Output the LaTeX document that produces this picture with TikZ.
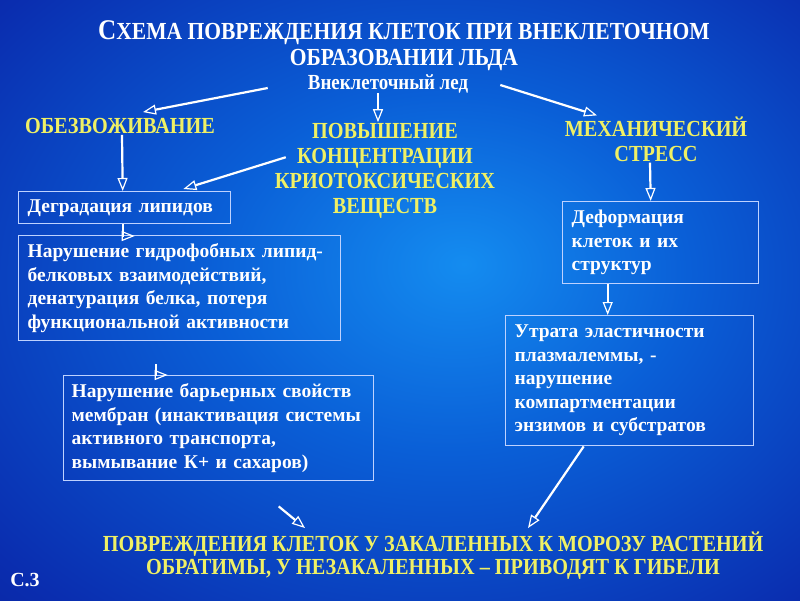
\documentclass[tikz,border=0pt]{standalone}
\usepackage{fontspec}
\setmainfont{Liberation Serif}
\newfontfamily\narrowfont{Liberation Serif}[FakeStretch=0.88]
\usetikzlibrary{positioning,arrows.meta,calc}

\definecolor{bgc}{RGB}{20,140,240}
\definecolor{bgm}{RGB}{10,95,215}
\definecolor{bgd}{RGB}{10,45,175}
\definecolor{bge}{RGB}{5,10,115}
\definecolor{ylw}{RGB}{240,240,100}
\definecolor{frame}{RGB}{190,210,255}
\pgfdeclareradialshading{bgshade}{\pgfpoint{4bp}{3bp}}{color(0bp)=(bgc); color(15bp)=(bgm); color(35bp)=(bgd); color(60bp)=(bge)}

\begin{document}
\begin{tikzpicture}[
  x=1pt, y=-1pt,
  >={Triangle[open,length=13pt,width=10pt,line width=1.2pt]},
  hdr/.style={text=white, align=center, inner sep=0pt, font=\narrowfont\bfseries\fontsize{24.5}{26}\selectfont},
  lbl/.style={text=ylw, align=center, inner sep=1pt, font=\narrowfont\bfseries\fontsize{23}{25}\selectfont},
  box/.style={draw=frame, line width=1.4pt, text=white, anchor=north west, align=left, inner xsep=9pt, font=\bfseries\fontsize{19.5}{23.5}\selectfont},
  flow/.style={->, draw=white, line width=2.2pt}
]
\useasboundingbox (0,0) rectangle (800,600);
\shade[shading=bgshade] (0,0) rectangle (800,600);

\node[hdr] (title) at (404,46) {{\fontsize{28.5}{26}\selectfont С}ХЕМА ПОВРЕЖДЕНИЯ КЛЕТОК ПРИ ВНЕКЛЕТОЧНОМ\\ОБРАЗОВАНИИ ЛЬДА};
\node[hdr, font=\narrowfont\bfseries\fontsize{21.5}{22}\selectfont] (ice) at (388,84) {Внеклеточный лед};

\node[lbl] (dehyd) at (120,126) {ОБЕЗВОЖИВАНИЕ};
\node[lbl] (conc) at (385,171) {ПОВЫШЕНИЕ\\КОНЦЕНТРАЦИИ\\КРИОТОКСИЧЕСКИХ\\ВЕЩЕСТВ};
\node[lbl] (mech) at (656,139) {МЕХАНИЧЕСКИЙ\\СТРЕСС};

\node[box, text width=194pt, minimum height=32pt] (b1) at (18,191) {Деградация липидов};
\node[box, text width=304pt, minimum height=105pt] (b2) at (18,235)
{Нарушение гидрофобных липид-\\белковых взаимодействий,\\денатурация белка, потеря\\функциональной активности};
\node[box, text width=294pt, inner xsep=8pt, minimum height=105pt] (b3) at (63,375)
{Нарушение барьерных свойств\\\mbox{мембран (инактивация системы}\\активного транспорта,\\вымывание К+ и сахаров)};
\node[box, text width=178pt, minimum height=82pt] (b4) at (562,201)
{Деформация\\клеток и их\\структур};
\node[box, text width=230pt, minimum height=130pt] (b5) at (505,315)
{Утрата эластичности\\плазмалеммы, -\\нарушение\\компартментации\\энзимов и субстратов};

\node[lbl, font=\narrowfont\bfseries\fontsize{23}{23}\selectfont] (result) at (433,556) {ПОВРЕЖДЕНИЯ КЛЕТОК У ЗАКАЛЕННЫХ К МОРОЗУ РАСТЕНИЙ\\ОБРАТИМЫ, У НЕЗАКАЛЕННЫХ – ПРИВОДЯТ К ГИБЕЛИ};
\node[hdr, font=\bfseries\fontsize{20}{22}\selectfont] (slide) at (25,580) {С.3};

% arrows
\draw[flow] ([xshift=-40pt,yshift=-4pt]ice.west) -- ([xshift=23pt,yshift=5pt]dehyd.north);
\draw[flow] ([xshift=-10pt]ice.south) -- ([xshift=-7pt]conc.north);
\draw[flow] ([xshift=32pt,yshift=-1pt]ice.east) -- ([xshift=-59pt]mech.north);
\draw[flow] ([xshift=2pt]dehyd.south) -- ([xshift=-2pt]b1.north);
\draw[flow] ([xshift=12pt,yshift=-35pt]conc.north west) -- ([xshift=-48pt,yshift=2pt]b1.north east);
\draw[flow] ([xshift=-6pt]mech.south) -- ([xshift=-10pt]b4.north);
\draw[flow] ([xshift=-2pt]b1.south) |- ([xshift=-45pt,yshift=-1pt]b2.north);
\draw[flow] ([xshift=-24pt,yshift=-23pt]b2.south) |- ([xshift=-51pt]b3.north);
\draw[flow] ([xshift=-53pt]b4.south) -- ([xshift=-22pt]b5.north);
\draw[flow] ([xshift=60pt,yshift=-25pt]b3.south) -- ([xshift=-128pt,yshift=3pt]result.north);
\draw[flow] ([xshift=-46pt]b5.south) -- ([xshift=95pt,yshift=3pt]result.north);

\end{tikzpicture}
\end{document}
